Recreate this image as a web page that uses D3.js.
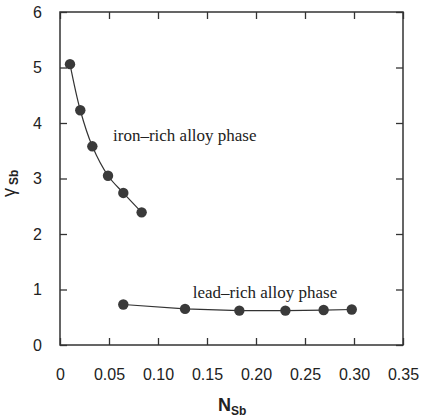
<!DOCTYPE html>
<html>
<head>
<meta charset="utf-8">
<script src="https://cdn.jsdelivr.net/npm/d3@7"></script>
<style>
  body { margin: 0; background: #fff; }
</style>
</head>
<body>
<svg width="422" height="420"></svg>
<script>
// iron-rich alloy phase
var ironN = [0.0102, 0.0207, 0.033, 0.049, 0.0646, 0.0833];
var ironGamma = [5.06, 4.23, 3.58, 3.05, 2.74, 2.39];
// lead-rich alloy phase
var leadN = [0.0646, 0.1276, 0.183, 0.230, 0.269, 0.2977];
var leadGamma = [0.73, 0.65, 0.62, 0.62, 0.63, 0.64];

var xTicks = [0, 0.05, 0.10, 0.15, 0.20, 0.25, 0.30, 0.35];
var xTickLabels = ["0", "0.05", "0.10", "0.15", "0.20", "0.25", "0.30", "0.35"];
var yTicks = [0, 1, 2, 3, 4, 5, 6];

var svg = d3.select("svg");
var margin = {top: 12, right: 19, bottom: 75, left: 60};
var width = 422 - margin.left - margin.right,
    height = 420 - margin.top - margin.bottom;
var g = svg.append("g").attr("transform", "translate(" + margin.left + "," + margin.top + ")");

var col = "#333";

var x = d3.scaleLinear().domain([0, 0.35]).range([0, width]);
var y = d3.scaleLinear().domain([0, 6]).range([height, 0]);

// frame
g.append("rect")
    .attr("width", width).attr("height", height)
    .attr("fill", "none").attr("stroke", col).attr("stroke-width", 1.5);

// inward ticks on all four sides
var tk = 7;
g.append("g").attr("transform", "translate(0," + height + ")")
    .call(d3.axisBottom(x).tickValues(xTicks).tickSizeInner(-tk).tickSizeOuter(0).tickPadding(24)
      .tickFormat(function(d, i) { return xTickLabels[i]; }))
    .call(function(a) { a.select(".domain").remove(); });
g.append("g")
    .call(d3.axisTop(x).tickValues(xTicks).tickSizeInner(-tk).tickSizeOuter(0).tickFormat(""))
    .call(function(a) { a.select(".domain").remove(); });
g.append("g")
    .call(d3.axisLeft(y).tickValues(yTicks).tickSizeInner(-tk).tickSizeOuter(0).tickPadding(18)
      .tickFormat(d3.format("d")))
    .call(function(a) { a.select(".domain").remove(); });
g.append("g").attr("transform", "translate(" + width + ",0)")
    .call(d3.axisRight(y).tickValues(yTicks).tickSizeInner(-tk).tickSizeOuter(0).tickFormat(""))
    .call(function(a) { a.select(".domain").remove(); });

g.selectAll(".tick line").attr("stroke", col).attr("stroke-width", 1.3);
g.selectAll(".tick text")
    .attr("fill", "#222")
    .attr("font-family", "Liberation Sans, Arial, sans-serif")
    .style("font-size", "16px");

// series
var iron = ironN.map(function(d, i) { return {n: d, g: ironGamma[i]}; });
var lead = leadN.map(function(d, i) { return {n: d, g: leadGamma[i]}; });

var curve = d3.line().x(function(d) { return x(d.n); }).y(function(d) { return y(d.g); })
    .curve(d3.curveCatmullRom.alpha(0.5));
var straight = d3.line().x(function(d) { return x(d.n); }).y(function(d) { return y(d.g); });

g.append("path").datum(iron).attr("d", curve)
    .attr("fill", "none").attr("stroke", col).attr("stroke-width", 1.2);
g.append("path").datum(lead).attr("d", straight)
    .attr("fill", "none").attr("stroke", col).attr("stroke-width", 1.2);

g.selectAll("circle.dot").data(iron.concat(lead)).enter().append("circle")
    .attr("class", "dot")
    .attr("cx", function(d) { return x(d.n); })
    .attr("cy", function(d) { return y(d.g); })
    .attr("r", 5.2)
    .attr("fill", "#3a3a3a");

// annotations
g.append("text")
    .attr("x", x(0.0541)).attr("y", y(3.67))
    .attr("font-family", "Liberation Serif, Times New Roman, serif")
    .style("font-size", "17px").attr("fill", "#222")
    .text("iron\u2013rich alloy phase");
g.append("text")
    .attr("x", x(0.1355)).attr("y", y(0.84))
    .attr("font-family", "Liberation Serif, Times New Roman, serif")
    .style("font-size", "17px").attr("fill", "#222")
    .text("lead\u2013rich alloy phase");

// axis titles
var xl = svg.append("text")
    .attr("x", 218).attr("y", 411)
    .attr("font-family", "Liberation Sans, Arial, sans-serif")
    .attr("fill", "#222").style("font-weight", "bold");
xl.append("tspan").style("font-size", "18px").text("N");
xl.append("tspan").attr("dy", 4).style("font-size", "12px").text("Sb");

var yl = svg.append("text")
    .attr("transform", "translate(15,197) rotate(-90)")
    .attr("font-family", "Liberation Sans, Arial, sans-serif")
    .attr("fill", "#222");
yl.append("tspan").style("font-size", "18px").text("\u03b3");
yl.append("tspan").attr("dx", 3).attr("dy", 3).style("font-size", "12px").style("font-weight", "bold").text("Sb");
</script>
</body>
</html>
